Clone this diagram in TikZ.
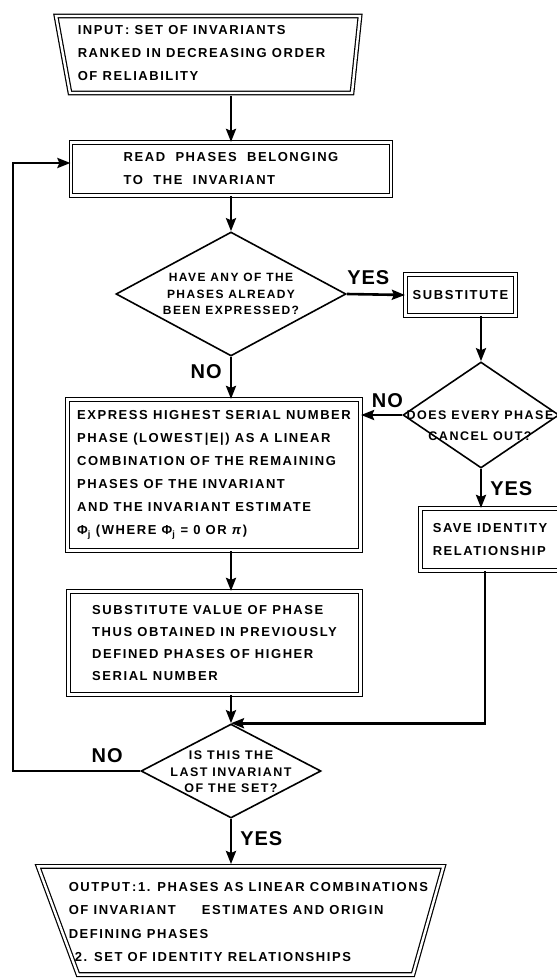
\documentclass[tikz,border=0pt]{standalone}
\usepackage{fontspec}
\setsansfont{Liberation Sans}[LetterSpace=12]
\newfontfamily\tagfont{Liberation Sans}[LetterSpace=5]
\usetikzlibrary{shapes.geometric, arrows.meta}

\begin{document}
\begin{tikzpicture}[x=1pt, y=-1pt, line width=1.6pt,
  every node/.style={font=\sffamily\bfseries\fontsize{13}{23}\selectfont},
  frame/.style={double, double distance=2.4pt, line width=1.2pt},
  box/.style={draw, frame, align=left, inner sep=0pt},
  decision/.style={draw, diamond, line width=1.6pt, inner sep=0pt},
  asks/.style={align=center, inner sep=0pt, font=\sffamily\bfseries\fontsize{12}{16.5}\selectfont},
  answer/.style={inner sep=0pt, font=\tagfont\bfseries\fontsize{20}{20}\selectfont},
  flow/.style={line width=2.6pt, -{Stealth[length=13pt, width=10pt, inset=2pt]}}]

\useasboundingbox (0,0) rectangle (557,978);

% Input block
\node[anchor=west, align=left, inner sep=0pt] (input) at (77,53)
  {INPUT\,: SET OF INVARIANTS\\RANKED IN DECREASING ORDER\\OF RELIABILITY};
\draw[frame] (56,16) -- (360,16) -- (352,93) -- (70,93) -- cycle;
\coordinate (input-out) at (231,96);

% Processing boxes
\node[box, minimum width=320, minimum height=53] (read) at (231,169)
  {READ\ \ PHASES\ \ BELONGING\\TO\ \ THE\ \ INVARIANT};
\node[box, minimum width=110, minimum height=41] (subst) at (460.5,295) {SUBSTITUTE};
\node[box, minimum width=293, minimum height=151] (express) at (214,475)
  {EXPRESS HIGHEST SERIAL NUMBER\\PHASE (LOWEST\,|E|) AS A LINEAR\\COMBINATION OF THE REMAINING\\PHASES OF THE INVARIANT\\AND THE INVARIANT ESTIMATE\\Φ\textsubscript{j} (WHERE Φ\textsubscript{j} = 0 OR \textit{π})};
\node[box, minimum width=139, minimum height=62] (save) at (490,539.5)
  {SAVE IDENTITY\\RELATIONSHIP};
\node[box, minimum width=292, minimum height=103, font=\sffamily\bfseries\fontsize{13}{22.3}\selectfont] (subval) at (214.5,643)
  {SUBSTITUTE VALUE OF PHASE\\THUS OBTAINED IN PREVIOUSLY\\DEFINED PHASES OF HIGHER\\SERIAL NUMBER};

% Decisions
\node[decision, minimum width=230, minimum height=124] (have) at (231,294) {};
\node[asks] (have-q) at (231,294) {HAVE ANY OF THE\\PHASES ALREADY\\BEEN EXPRESSED?};
\node[decision, minimum width=156, minimum height=106] (cancel) at (481,415) {};
\node[asks, font=\sffamily\bfseries\fontsize{12.5}{21}\selectfont] (cancel-q) at (480,426) {DOES EVERY PHASE\\CANCEL OUT?};
\node[decision, minimum width=180, minimum height=94] (last) at (231,771) {};
\node[asks, font=\sffamily\bfseries\fontsize{12.5}{16.5}\selectfont] (last-q) at (231,772) {IS THIS THE\\LAST INVARIANT\\OF THE SET?};

% Output block
\node[anchor=west, align=left, inner sep=0pt, font=\sffamily\bfseries\fontsize{13}{23.3}\selectfont] (output) at (68,922)
  {OUTPUT\,:1. PHASES AS LINEAR COMBINATIONS\\OF INVARIANT\quad\quad ESTIMATES AND ORIGIN\\DEFINING PHASES\\\hspace*{6pt}2. SET OF IDENTITY RELATIONSHIPS};
\draw[frame] (38,866.4) -- (443.5,866.4) -- (413,974.6) -- (78,974.6) -- cycle;
\coordinate (output-in) at (231,864);

% Flow lines
\draw[flow] (input-out) -- (read.north);
\draw[flow] (read.south) -- (have.north);
\draw[flow] (have.east) -- (subst.west) node[answer, above=8pt, pos=0.37] (yes-have) {YES};
\draw[flow] (have.south) -- (have.south |- express.north) node[answer, left=8pt, pos=0.35] (no-have) {NO};
\draw[flow] (subst.south -| cancel.north) -- (cancel.north);
\draw[flow] (cancel.west) -- (cancel.west -| express.east) node[answer, above=6pt, pos=0.36] (no-cancel) {NO};
\draw[flow] (cancel.south) -- (cancel.south |- save.north) node[answer, right=8pt, midway] (yes-cancel) {YES};
\draw[flow] (express.south -| last.north) -- (subval.north -| last.north);
\draw[flow] ([xshift=-5pt]save.south) |- (last.north);
\draw[flow] (subval.south -| last.north) -- (last.north);
\draw[flow] (last.south) -- (output-in) node[answer, right=8pt, pos=0.43] (yes-last) {YES};

% Return to the next invariant
\coordinate (loop) at (13,771);
\draw[flow] (last.west) -- (loop) node[answer, above=7pt, pos=0.26] (no-last) {NO} |- ([yshift=6pt]read.west);

\end{tikzpicture}
\end{document}
